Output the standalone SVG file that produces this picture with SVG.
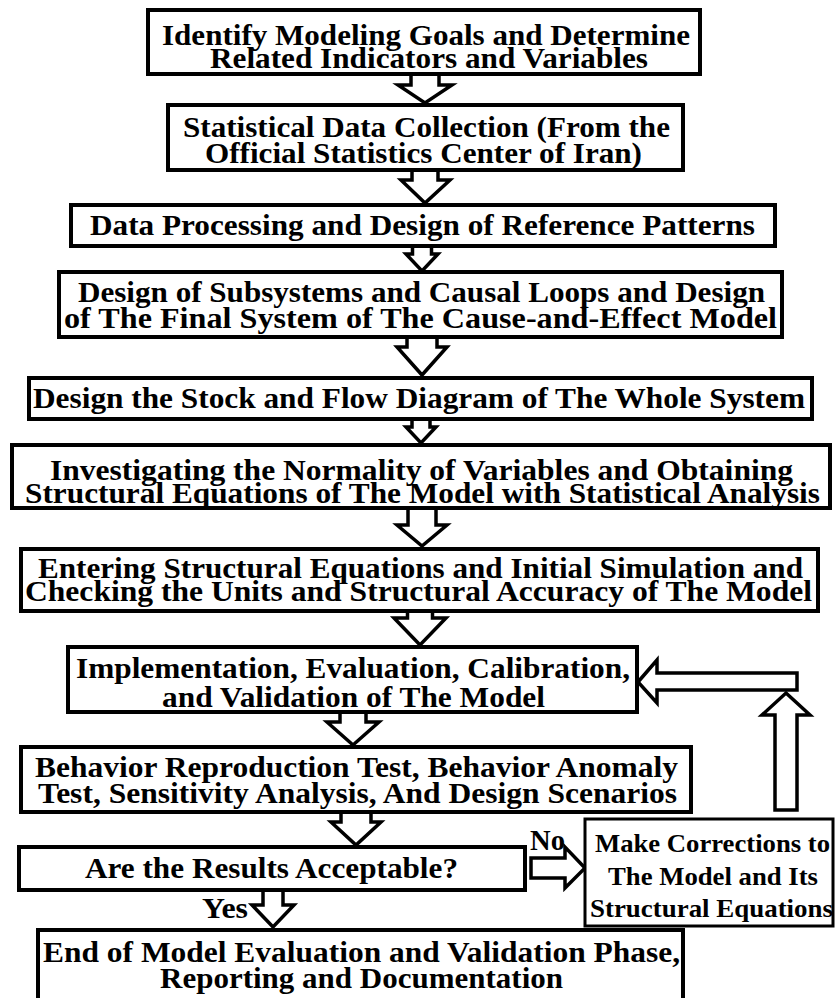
<svg xmlns="http://www.w3.org/2000/svg" width="835" height="998" viewBox="0 0 835 998" font-family="Liberation Serif, Times New Roman, Times, serif">
<style>
.box{fill:#fff;stroke:#000;stroke-width:4}
.box2{fill:#fff;stroke:#000;stroke-width:3}
.arr{fill:#fff;stroke:#000;stroke-width:3.5;stroke-linejoin:miter}
text{font-family:'Liberation Serif','Times New Roman',Times,serif;font-weight:700;font-size:30px;fill:#000}
text.s{font-size:26px}
</style>
<rect x="0" y="0" width="835" height="998" fill="#fff"/>
<g id="connectors">
<polyline class="arr" points="411,74 411,85 398,85 425,103 452,85 439,85 439,74"/>
<polyline class="arr" points="412,170 412,180 401,180 425,203 450,180 438,180 438,170"/>
<polyline class="arr" points="412.5,246 412.5,254 406,254 422,271 438,254 431.5,254 431.5,246"/>
<polyline class="arr" points="407,337 407,347 397,347 422,375 447,347 437,347 437,337"/>
<polyline class="arr" points="412,419 412,427 406,427 421,443 436,427 430,427 430,419"/>
<polyline class="arr" points="408,508 408,525 397,525 422,546 447,525 436,525 436,508"/>
<polyline class="arr" points="407.5,611 407.5,618 394,618 420,645 446,618 432.5,618 432.5,611"/>
<polyline class="arr" points="340,712 340,722 327,722 353,745 379,722 366,722 366,712"/>
<polyline class="arr" points="341,812 341,822 331,822 356,845 381,822 371,822 371,812"/>
<polyline class="arr" points="263,890 263,905 252,905 273,927 294,905 283,905 283,890"/>
<polygon class="arr" points="531,858 565,858 565,847 585,868 565,888 565,878 531,878"/>
<polygon class="arr" points="786,693 810,715 797,715 797,810 775,810 775,715 762,715"/>
<polygon class="arr" points="638,682 657,660 657,673 797,673 797,690 657,690 657,703"/>
<text x="202" y="918" textLength="46" lengthAdjust="spacingAndGlyphs">Yes</text>
<text x="530" y="850" textLength="35" lengthAdjust="spacingAndGlyphs">No</text>
</g>
<g id="n1">
<rect class="box" x="148" y="10" width="552" height="64"/>
<text x="162" y="45" textLength="528" lengthAdjust="spacingAndGlyphs">Identify Modeling Goals and Determine</text>
<text x="210" y="68" textLength="438" lengthAdjust="spacingAndGlyphs">Related Indicators and Variables</text>
</g>
<g id="n2">
<rect class="box" x="168" y="105" width="515" height="65"/>
<text x="183" y="137" textLength="487" lengthAdjust="spacingAndGlyphs">Statistical Data Collection (From the</text>
<text x="205" y="163" textLength="437" lengthAdjust="spacingAndGlyphs">Official Statistics Center of Iran)</text>
</g>
<g id="n3">
<rect class="box" x="71" y="205" width="704" height="41"/>
<text x="90" y="235" textLength="665" lengthAdjust="spacingAndGlyphs">Data Processing and Design of Reference Patterns</text>
</g>
<g id="n4">
<rect class="box" x="59" y="272" width="723" height="65"/>
<text x="78" y="302" textLength="687" lengthAdjust="spacingAndGlyphs">Design of Subsystems and Causal Loops and Design</text>
<text x="64" y="328" textLength="713" lengthAdjust="spacingAndGlyphs">of The Final System of The Cause-and-Effect Model</text>
</g>
<g id="n5">
<rect class="box" x="29" y="378" width="783" height="41"/>
<text x="33" y="408" textLength="772" lengthAdjust="spacingAndGlyphs">Design the Stock and Flow Diagram of The Whole System</text>
</g>
<g id="n6">
<rect class="box" x="12" y="445" width="818" height="63"/>
<text x="50" y="480" textLength="743" lengthAdjust="spacingAndGlyphs">Investigating the Normality of Variables and Obtaining</text>
<text x="25" y="503" textLength="795" lengthAdjust="spacingAndGlyphs">Structural Equations of The Model with Statistical Analysis</text>
</g>
<g id="n7">
<rect class="box" x="21" y="549" width="797" height="62"/>
<text x="38" y="578" textLength="765" lengthAdjust="spacingAndGlyphs">Entering Structural Equations and Initial Simulation and</text>
<text x="25" y="601" textLength="787" lengthAdjust="spacingAndGlyphs">Checking the Units and Structural Accuracy of The Model</text>
</g>
<g id="n8">
<rect class="box" x="68" y="647" width="569" height="65"/>
<text x="76" y="678" textLength="554" lengthAdjust="spacingAndGlyphs">Implementation, Evaluation, Calibration,</text>
<text x="162" y="707" textLength="383" lengthAdjust="spacingAndGlyphs">and Validation of The Model</text>
</g>
<g id="n9">
<rect class="box" x="21" y="747" width="670" height="65"/>
<text x="35" y="777" textLength="643" lengthAdjust="spacingAndGlyphs">Behavior Reproduction Test, Behavior Anomaly</text>
<text x="38" y="803" textLength="639" lengthAdjust="spacingAndGlyphs">Test, Sensitivity Analysis, And Design Scenarios</text>
</g>
<g id="n10">
<rect class="box" x="19" y="847" width="506" height="43"/>
<text x="85" y="878" textLength="373" lengthAdjust="spacingAndGlyphs">Are the Results Acceptable?</text>
</g>
<g id="n11">
<rect class="box2" x="585" y="819" width="248" height="107"/>
<text class="s" x="595" y="852" textLength="235" lengthAdjust="spacingAndGlyphs">Make Corrections to</text>
<text class="s" x="608" y="885" textLength="210" lengthAdjust="spacingAndGlyphs">The Model and Its</text>
<text class="s" x="590" y="917" textLength="243" lengthAdjust="spacingAndGlyphs">Structural Equations</text>
</g>
<g id="n12">
<rect class="box" x="38" y="930" width="645" height="80"/>
<text x="43" y="962" textLength="637" lengthAdjust="spacingAndGlyphs">End of Model Evaluation and Validation Phase,</text>
<text x="160" y="988" textLength="403" lengthAdjust="spacingAndGlyphs">Reporting and Documentation</text>
</g>
</svg>
